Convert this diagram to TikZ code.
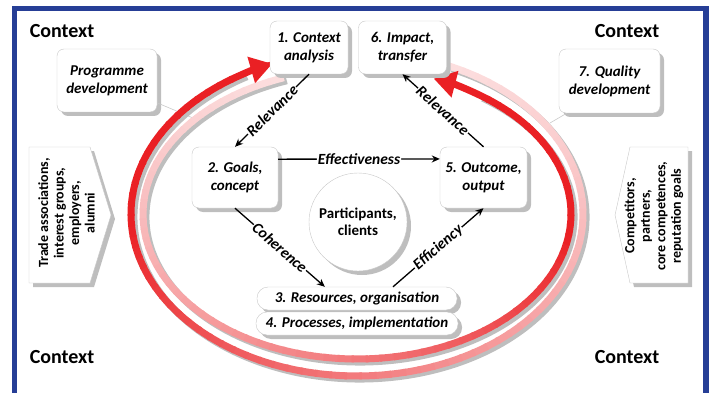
\documentclass[tikz,border=0pt]{standalone}
\usepackage{fontspec}
\setmainfont{Carlito}
\usetikzlibrary{shadows,arrows.meta,positioning}
\definecolor{frameblue}{RGB}{38, 62, 150}
\definecolor{ringred}{RGB}{234, 32, 36}
\definecolor{boxline}{RGB}{200, 200, 200}
\definecolor{shadowgray}{RGB}{190, 190, 190}

\begin{document}
\begin{tikzpicture}[x=1pt, y=-1pt,
	boxshadow/.style={drop shadow={shadow xshift=4pt, shadow yshift=-4pt, fill=shadowgray, opacity=1}},
	box/.style={draw=boxline, fill=white, rounded corners=7pt, align=center, inner sep=2pt, boxshadow,
		font=\fontsize{15}{18}\selectfont\bfseries\itshape},
	pillbox/.style={box, rounded corners=11pt, minimum width=200pt, minimum height=23pt, inner sep=1pt},
	sideshape/.style={draw=boxline, fill=white, boxshadow},
	sidetext/.style={rotate=90, align=center, font=\fontsize{14}{15.5}\selectfont\bfseries},
	ctxlabel/.style={font=\fontsize{20}{22}\selectfont\bfseries},
	flow/.style={-{Stealth[length=8pt, width=7pt]}, line width=1.3pt},
	flowlabel/.style={sloped, fill=white, inner sep=1pt, font=\fontsize{15.5}{15.5}\selectfont\bfseries\itshape},
	ring/.style={line width=7pt},
	ringshadow/.style={line width=7pt, shadowgray},
	thinline/.style={draw=boxline, line width=0.6pt}]
	\useasboundingbox (0, 0) rectangle (709, 393);
	\fill [frameblue] (12, 6) rectangle (709, 11);
	\fill [frameblue] (12, 6) rectangle (17, 393);
	\fill [frameblue] (703, 6) rectangle (709, 393);

	\node [ctxlabel] (ctxtl) at (62, 31) {Context};
	\node [ctxlabel] (ctxtr) at (627, 31) {Context};
	\node [ctxlabel] (ctxbl) at (62, 357) {Context};
	\node [ctxlabel] (ctxbr) at (627, 357) {Context};

	\node [box, minimum width=100pt, minimum height=63pt] (prog) at (107, 80.5) {Programme\\development};
	\node [box, minimum width=101pt, minimum height=64pt] (quality) at (609.5, 81) {7. Quality\\development};
	\coordinate (progring) at (193, 118);
	\coordinate (qualring) at (550, 123);
	\draw [thinline] (prog.-24) -- (progring);
	\draw [thinline] (quality.217) -- (qualring);

	\draw [sideshape] (29, 147) -- (90, 147) -- (111, 215) -- (90, 283) -- (29, 283) -- cycle;
	\node [sidetext] (trade) at (66.5, 213) {Trade associations,\\interest groups,\\employers,\\alumni};
	\draw [sideshape] (688, 147) -- (630, 147) -- (615, 215) -- (630, 283) -- (688, 283) -- cycle;
	\node [sidetext] (compet) at (654, 216) {Competitors,\\partners,\\core competences,\\reputation goals};

	\draw [ringshadow] ({360+226*cos(-66)}, {217+162*sin(-66)}) arc [start angle=-66, end angle=240, x radius=226, y radius=162];
	\draw [ringshadow] ({360+214*cos(250)}, {217+145*sin(250)}) arc [start angle=250, end angle=-55, x radius=214, y radius=145];
	\foreach \i in {0,...,79} {
		\pgfmathsetmacro\ta{-66+\i*3.775}
		\pgfmathsetmacro\tb{\ta+4.4}
		\pgfmathsetmacro\pc{min(100, 15+85*(\i/79)*(0.6+0.8*\i/79))}
		\draw [ring, ringred!\pc!white] ({357+226*cos(\ta)}, {214+162*sin(\ta)}) arc [start angle=\ta, end angle=\tb, x radius=226, y radius=162];
	}
	\foreach \i in {0,...,79} {
		\pgfmathsetmacro\ta{250-\i*3.775}
		\pgfmathsetmacro\tb{\ta-4.4}
		\pgfmathsetmacro\pc{min(100, 15+85*(\i/79)*(0.6+0.8*\i/79))}
		\draw [ring, ringred!\pc!white] ({357+214*cos(\ta)}, {214+145*sin(\ta)}) arc [start angle=\ta, end angle=\tb, x radius=214, y radius=145];
	}
	\draw [ring, ringred, -{Triangle[length=22pt, width=26pt]}] ({357+226*cos(236)}, {214+162*sin(236)}) arc [start angle=236, end angle=248, x radius=226, y radius=162];
	\draw [ring, ringred, -{Triangle[length=22pt, width=26pt]}] ({357+214*cos(-52)}, {214+145*sin(-52)}) arc [start angle=-52, end angle=-69, x radius=214, y radius=145];

	\node [box, minimum width=78pt, minimum height=53pt] (ctx) at (309, 47.5) {1. Context\\analysis};
	\node [box, minimum width=88pt, minimum height=53pt] (impact) at (402.5, 47.5) {6. Impact,\\transfer};
	\node [box, minimum width=86pt, minimum height=61pt] (goals) at (235, 177.5) {2. Goals,\\concept};
	\node [box, minimum width=87pt, minimum height=61pt] (outcome) at (483.5, 177.5) {5. Outcome,\\output};
	\node [box, circle, minimum size=98pt, font=\fontsize{15}{17}\selectfont\bfseries] (part) at (358, 222) {Participants,\\clients};
	\node [pillbox] (res) at (357, 298.5) {3. Resources, organisation};
	\node [pillbox, minimum width=202pt] (proc) at (357, 323.5) {4. Processes, implementation};

	\draw [flow] (ctx.south) -- node [flowlabel] {Relevance} (goals.north);
	\draw [flow] (outcome.north) -- node [flowlabel] {Relevance} (impact.south);
	\draw [flow] (goals.23) -- node [flowlabel] {Effectiveness} (outcome.157);
	\draw [flow] (goals.south) -- node [flowlabel] {Coherence} (res.160);
	\draw [flow] (res.18) -- node [flowlabel] {Efficiency} (outcome.south);
\end{tikzpicture}
\end{document}
